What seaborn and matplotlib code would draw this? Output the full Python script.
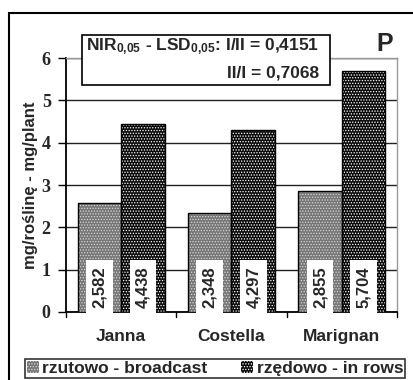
import matplotlib
matplotlib.use("Agg")
import matplotlib.pyplot as plt
import seaborn as sns
import pandas as pd
from matplotlib.patches import Rectangle, Patch

categories = ["Janna", "Costella", "Marignan"]
series = ["rzutowo - broadcast", "rzędowo - in rows"]
broadcast = [2.582, 2.348, 2.855]
rows = [4.438, 4.297, 5.704]
value_labels_b = ["2,582", "2,348", "2,855"]
value_labels_r = ["4,438", "4,297", "5,704"]
yticks = [0, 1, 2, 3, 4, 5, 6]

df = pd.DataFrame({
    "cat": categories * 2,
    "method": [series[0]] * 3 + [series[1]] * 3,
    "val": broadcast + rows,
})

sns.set_theme(style="white")
plt.rcParams["font.family"] = ["Liberation Sans", "DejaVu Sans"]
plt.rcParams["mathtext.fontset"] = "custom"
plt.rcParams["mathtext.rm"] = "Liberation Sans:bold"
plt.rcParams["mathtext.bf"] = "Liberation Sans:bold"
plt.rcParams["mathtext.default"] = "rm"
plt.rcParams["hatch.linewidth"] = 0.6

fig = plt.figure(figsize=(4.14, 3.8), dpi=100)
ax = fig.add_axes([0.1594, 0.179, 0.7995, 0.668])

fills = {series[0]: "#767676", series[1]: "#0a0a0a"}
hatch_cols = ["#d8d8d8", "#ffffff"]
sns.barplot(data=df, x="cat", y="val", hue="method", order=categories,
            hue_order=series, palette=fills, width=0.79, ax=ax,
            legend=False, saturation=1, zorder=3)

for cont, hc in zip(ax.containers, hatch_cols):
    for p in cont.patches:
        p.set_edgecolor(hc)
        p.set_hatch("......")
        p.set_linewidth(0)
        ax.add_patch(Rectangle(p.get_xy(), p.get_width(), p.get_height(),
                               fill=False, edgecolor="black", lw=1.0, zorder=4))

for cont, labs in zip(ax.containers, [value_labels_b, value_labels_r]):
    for p, lab in zip(cont.patches, labs):
        xc = p.get_x() + p.get_width() / 2
        ax.text(xc, 0.1, lab, rotation=90, ha="center", va="bottom",
                fontsize=12, fontweight="bold", zorder=6,
                bbox=dict(boxstyle="square,pad=0.35", fc="white", ec="none"))

ax.set_ylim(0, 6)
ax.set_xlim(-0.5, 2.5)
ax.set_yticks(yticks)
ax.set_yticklabels([str(t) for t in yticks], fontsize=13, fontweight="bold",
                   family=["Liberation Serif", "DejaVu Serif"])
ax.yaxis.grid(True, color="#222222", lw=1.0, zorder=0)
ax.set_axisbelow(True)
ax.tick_params(axis="y", length=6, width=1, color="black", left=True, pad=5)
ax.set_xticks([0, 1, 2])
ax.set_xticklabels(categories, fontsize=12.5, fontweight="bold")
ax.tick_params(axis="x", length=0, pad=12)
for xb in [-0.5, 0.5, 1.5, 2.5]:
    ax.plot([xb, xb], [0, -0.12], color="black", lw=1, clip_on=False, zorder=5)
ax.set_xlabel("")
ax.set_ylabel("mg/roślinę - mg/plant", fontsize=12, fontweight="bold", labelpad=3)
for s in ["top", "right"]:
    ax.spines[s].set_color("#999999")
    ax.spines[s].set_linewidth(1)
for s in ["left", "bottom"]:
    ax.spines[s].set_color("black")
    ax.spines[s].set_linewidth(1.3)

# annotation box
ax.add_patch(Rectangle((0.048, 0.894), 0.75, 0.196, transform=ax.transAxes,
                       fill=True, fc="white", ec="black", lw=1.2,
                       clip_on=False, zorder=7))
ax.text(0.765, 1.045, r"NIR$_{0{,}05}$ - LSD$_{0{,}05}$: I/II = 0,4151",
        transform=ax.transAxes, ha="right", va="center", fontsize=12.5,
        fontweight="bold", zorder=8)
ax.text(0.765, 0.94, "II/I = 0,7068", transform=ax.transAxes, ha="right",
        va="center", fontsize=12.5, fontweight="bold", zorder=8)
fig.text(0.93, 0.885, "P", fontsize=18, fontweight="bold", ha="center", va="center")

# legend
handles = [Patch(facecolor=fills[s], edgecolor=hc, hatch="......", lw=0)
           for s, hc in zip(series, hatch_cols)]
leg = fig.legend(handles, series, loc="lower left", ncol=2, mode="expand",
                 bbox_to_anchor=(0.06, 0.005, 0.918, 0.063), frameon=True,
                 fancybox=False, shadow=False, prop=dict(size=12.5, weight="bold"),
                 handlelength=0.7, handleheight=0.7, handletextpad=0.2,
                 borderpad=0.1, borderaxespad=0, columnspacing=1.0)
leg.get_frame().set_edgecolor("black")
leg.get_frame().set_linewidth(1.2)

# outer frame
fig.patches.append(Rectangle((0.022, -0.05), 1.2, 1.0158, transform=fig.transFigure,
                             fill=False, ec="black", lw=1.5, zorder=0))

fig.savefig("out.png", dpi=100)
